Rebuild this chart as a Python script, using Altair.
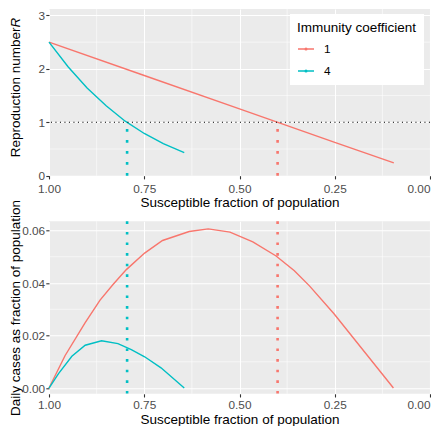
import altair as alt
import pandas as pd

RED = "#F8766D"
TEAL = "#00BFC4"
FONT = "Liberation Sans"

# ---- data ----
coef_labels = ["1", "4"]

# top panel: reproduction number vs susceptible fraction
r1_s = [1.0, 0.75, 0.5, 0.25, 0.095]
r1_R = [2.5, 1.875, 1.25, 0.625, 0.24]
r4_s = [1.0, 0.95, 0.9, 0.85, 0.8, 0.75, 0.7, 0.645]
r4_R = [2.5, 2.04, 1.64, 1.31, 1.02, 0.79, 0.60, 0.43]

# bottom panel: daily cases as fraction of population
c1_s = [1.0, 0.958, 0.905, 0.866, 0.832, 0.797, 0.749, 0.702, 0.632, 0.582,
        0.525, 0.465, 0.404, 0.356, 0.317, 0.252, 0.096]
c1_v = [0.0, 0.0123, 0.0249, 0.0335, 0.0394, 0.0451, 0.0514, 0.0562, 0.0596, 0.0606,
        0.0594, 0.0557, 0.0503, 0.0447, 0.039, 0.0283, 0.0]
c4_s = [1.0, 0.975, 0.94, 0.905, 0.862, 0.819, 0.784, 0.749, 0.706, 0.645]
c4_v = [0.0, 0.0055, 0.0121, 0.0163, 0.018, 0.0169, 0.0146, 0.0119, 0.0077, 0.0]

herd_s = [0.4, 0.795]          # herd-immunity thresholds (coef 1, coef 4)
threshold_R = [1.0]

x_ticks = [1.0, 0.75, 0.5, 0.25, 0.0]
x_minor = [0.875, 0.625, 0.375, 0.125]
top_y_ticks = [0, 1, 2, 3]
top_y_minor = [0.5, 1.5, 2.5]
bot_y_ticks = [0.0, 0.02, 0.04, 0.06]
bot_y_minor = [0.01, 0.03, 0.05]

# ---- tables ----
top_lines = pd.DataFrame({
    "s": r1_s + r4_s,
    "R": r1_R + r4_R,
    "coef": [coef_labels[0]] * len(r1_s) + [coef_labels[1]] * len(r4_s),
})
bot_lines = pd.DataFrame({
    "s": c1_s + c4_s,
    "v": c1_v + c4_v,
    "coef": [coef_labels[0]] * len(c1_s) + [coef_labels[1]] * len(c4_s),
})
vl_top = pd.DataFrame({"s": herd_s, "R": [0.0, 0.0], "R1": [1.0, 1.0], "coef": coef_labels})
vl_bot = pd.DataFrame({"s": herd_s, "coef": coef_labels})

W = 381
H_TOP = 166.7
H_BOT = 172.5
TITLE_FS = 13.5
LABEL_FS = 11.8
EXT = 26.5

color_scale = alt.Scale(domain=coef_labels, range=[RED, TEAL])
x_scale = alt.Scale(domain=[0, 1], reverse=True, nice=False, zero=False)
label_align = alt.condition("datum.value == 0", alt.value("right"), alt.value("center"))


def make_x_axis(label_pad, title_pad):
    return alt.Axis(values=x_ticks, format=".2f", title="Susceptible fraction of population",
                    labelFlush=False, titlePadding=title_pad, labelPadding=label_pad,
                    labelAlign=label_align)


x_axis_top = make_x_axis(4.6, 0)
x_axis_bot = make_x_axis(2.8, 0.5)


def XT():
    return alt.X("s:Q", scale=x_scale, axis=x_axis_top)


def XB():
    return alt.X("s:Q", scale=x_scale, axis=x_axis_bot)


top_y_axis = alt.Axis(values=top_y_ticks, format="d", title=None, minExtent=EXT, maxExtent=EXT,
                      labelPadding=1.2)
top_y_scale = alt.Scale(domain=[0, 3.12], nice=False, zero=False)


def YT(field="R"):
    return alt.Y(f"{field}:Q", scale=top_y_scale, axis=top_y_axis)


bot_y_axis = alt.Axis(values=bot_y_ticks, format=".2f", title="Daily cases as fraction of population",
                      minExtent=EXT, maxExtent=EXT, titlePadding=0, labelPadding=1.2)
bot_y_scale = alt.Scale(domain=[-0.0022, 0.0635], nice=False, zero=False)


def YB():
    return alt.Y("v:Q", scale=bot_y_scale, axis=bot_y_axis)


minor = dict(color="white", strokeWidth=0.55)
sym_path = "M-1,0L1,0M-0.12,0A0.12,0.12,0,1,1,0.12,0A0.12,0.12,0,1,1,-0.12,0"

legend = alt.Legend(title="Immunity coefficient", orient="none", legendX=241, legendY=5,
                    fillColor="white", padding=7, symbolType=sym_path, symbolSize=256,
                    symbolStrokeWidth=1.3, labelOffset=9, rowPadding=6, titlePadding=5.5,
                    titleFontSize=TITLE_FS, titleFontWeight="normal", titleColor="black",
                    labelFontSize=LABEL_FS, labelColor="black", direction="vertical")

# ---- top panel ----
t_minor_x = alt.Chart(pd.DataFrame({"s": x_minor})).mark_rule(**minor).encode(x=XT())
t_minor_y = alt.Chart(pd.DataFrame({"R": top_y_minor})).mark_rule(**minor).encode(y=YT())
t_hline = alt.Chart(pd.DataFrame({"R": threshold_R})).mark_rule(
    color="black", strokeWidth=1.1, strokeDash=[1.1, 3.4]).encode(y=YT())
t_lines = alt.Chart(top_lines).mark_line(strokeWidth=1.4).encode(
    x=XT(), y=YT(), color=alt.Color("coef:N", scale=color_scale, legend=legend))
t_vlines = alt.Chart(vl_top).mark_rule(strokeWidth=2.6, strokeDash=[2.6, 8.4]).encode(
    x=XT(), y=YT(), y2="R1:Q", color=alt.Color("coef:N", scale=color_scale, legend=None))
t_title1 = alt.Chart(pd.DataFrame({"t": ["Reproduction number"]})).mark_text(
    angle=270, align="right", baseline="bottom", fontSize=TITLE_FS, font=FONT, color="black"
).encode(x=alt.value(-EXT), y=alt.value(18.5), text="t:N")
t_title2 = alt.Chart(pd.DataFrame({"t": ["R"]})).mark_text(
    angle=270, align="left", baseline="bottom", fontSize=TITLE_FS, font=FONT, color="black",
    fontStyle="italic"
).encode(x=alt.value(-EXT), y=alt.value(18.5), text="t:N")

top = alt.layer(t_minor_x, t_minor_y, t_lines, t_hline, t_vlines, t_title1, t_title2).properties(
    width=W, height=H_TOP)

# ---- bottom panel ----
b_minor_x = alt.Chart(pd.DataFrame({"s": x_minor})).mark_rule(**minor).encode(x=XB())
b_minor_y = alt.Chart(pd.DataFrame({"v": bot_y_minor})).mark_rule(**minor).encode(y=YB())
b_lines = alt.Chart(bot_lines).mark_line(strokeWidth=1.4).encode(
    x=XB(), y=YB(), color=alt.Color("coef:N", scale=color_scale, legend=None))
b_vlines = alt.Chart(vl_bot).mark_rule(strokeWidth=2.6, strokeDash=[2.6, 8.0]).encode(
    x=XB(), color=alt.Color("coef:N", scale=color_scale, legend=None))

bottom = alt.layer(b_minor_x, b_minor_y, b_lines, b_vlines).properties(width=W, height=H_BOT)

chart = alt.vconcat(top, bottom, spacing=45.3, bounds="flush").resolve_scale(
    color="independent").resolve_legend(color="independent").properties(padding=0).configure(
    font=FONT).configure_view(fill="#EBEBEB", stroke=None).configure_axis(
    grid=True, gridColor="white", gridWidth=1.1, domain=False,
    tickColor="#333333", tickSize=3.2, tickWidth=1.1,
    labelColor="#4D4D4D", labelFontSize=LABEL_FS, labelFont=FONT,
    titleColor="black", titleFontSize=TITLE_FS, titleFontWeight="normal", titleFont=FONT
).configure_legend(labelFont=FONT, titleFont=FONT)

chart.save("out.html", embed_options={"renderer": "svg", "actions": False})
